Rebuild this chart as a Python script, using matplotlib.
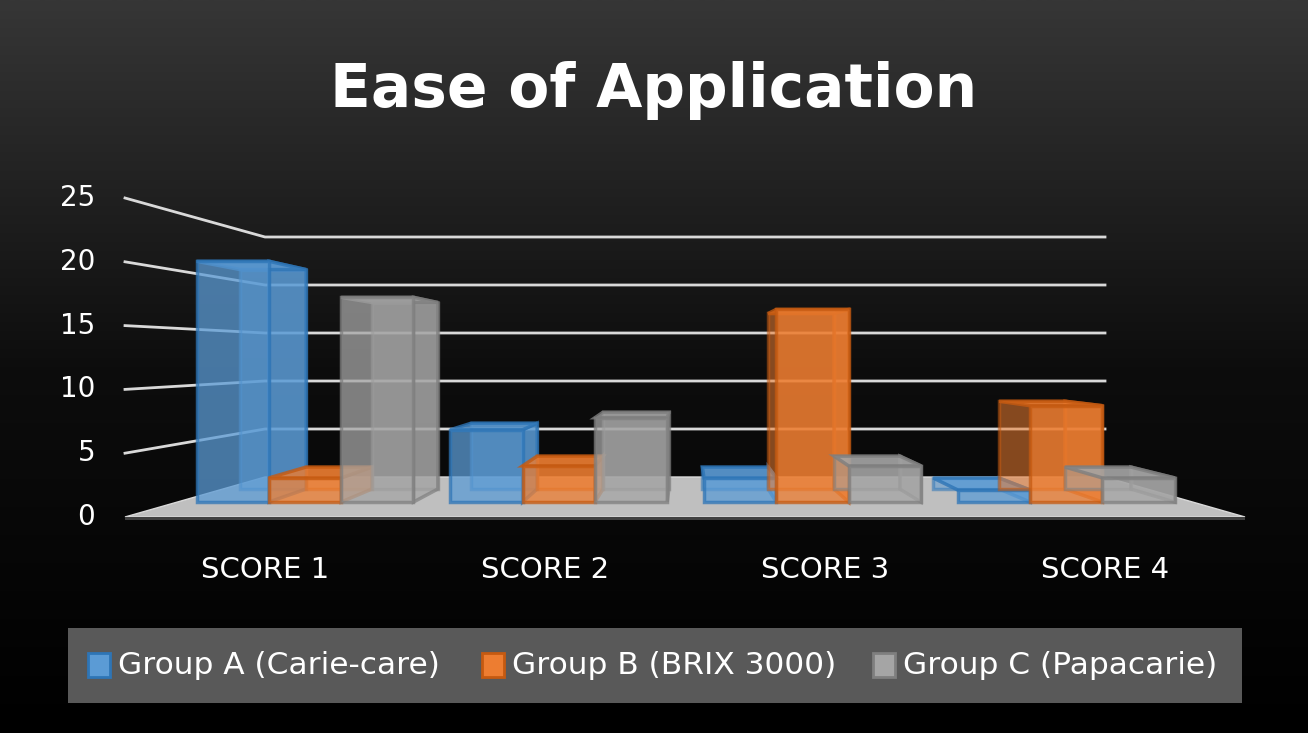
import matplotlib
matplotlib.use("Agg")
import matplotlib.pyplot as plt
import numpy as np
from matplotlib.patches import Polygon, Rectangle
from matplotlib.colors import LinearSegmentedColormap

categories = ["SCORE 1", "SCORE 2", "SCORE 3", "SCORE 4"]
series_names = ["Group A (Carie-care)", "Group B (BRIX 3000)", "Group C (Papacarie)"]
group_a = [20, 6, 2, 1]
group_b = [2, 3, 16, 8]
group_c = [17, 7, 3, 2]
yticks = [0, 5, 10, 15, 20, 25]

fills = ["#5B9BD5", "#ED7D31", "#A5A5A5"]
edges = ["#2E75B6", "#C55A11", "#7F7F7F"]

W, H = 1308, 733
fig = plt.figure(figsize=(W / 100, H / 100), dpi=100)
ax = fig.add_axes([0, 0, 1, 1])
ax.set_xlim(0, W); ax.set_ylim(H, 0); ax.axis("off")
grad = np.linspace(0, 1, 256).reshape(-1, 1)
cm = LinearSegmentedColormap.from_list("bg", ["#363636", "#0d0d0d", "#000000"])
ax.imshow(grad, extent=[0, W, H, 0], cmap=cm, aspect="auto", zorder=0)

def P(x, v, f):
    X0 = 125 + x / 4 * 1120
    X = 685 + (X0 - 685) * (1 - 0.25 * f)
    Y = 517 - 40 * f - (12.76 - 3.16 * f) * v
    return (X, Y)

def PB(x, v, f):
    # bars: slightly taller projection to match the reference perspective
    X, Y = P(x, 0, f)
    return (X, Y - (12.76 - 3.16 * f) * v * 1.04)

ax.add_patch(Polygon([P(0, 0, 0), P(4, 0, 0), P(4, 0, 1), P(0, 0, 1)],
                     closed=True, fc="#BFBFBF", ec="#D9D9D9", zorder=1))
ax.add_patch(Polygon([P(0, 0, 0), P(4, 0, 0), P(4, -0.25, 0), P(0, -0.25, 0)],
                     closed=True, fc="#404040", ec="none", zorder=1))
for t in yticks[1:]:
    xs = [P(0, t, 0)[0], P(0, t, 1)[0], P(4, t, 1)[0]]
    ys = [P(0, t, 0)[1], P(0, t, 1)[1], P(4, t, 1)[1]]
    ax.plot(xs, ys, color="#D9D9D9", lw=2, zorder=1)
for t in yticks:
    X, Y = P(0, t, 0)
    ax.text(95, Y, str(t), color="white", fontsize=20, ha="right", va="center")
for i, c in enumerate(categories):
    X, Y = P(i + 0.5, 0, 0)
    ax.text(X, 570, c, color="white", fontsize=21, ha="center", va="center")

f1, f2 = 0.375, 0.7
bw = 0.285
data = [group_a, group_b, group_c]
z = 2
for i in range(len(categories)):
    for s in range(3):
        v = data[s][i]
        x0 = i + 0.075 + s * bw
        x1 = x0 + bw
        kw = dict(closed=True, ec=edges[s], lw=2.5)
        faces = [
            ([PB(x0, 0, f2), PB(x1, 0, f2), PB(x1, v, f2), PB(x0, v, f2)], 0.55),
            ([PB(x1, 0, f1), PB(x1, 0, f2), PB(x1, v, f2), PB(x1, v, f1)], 0.7),
            ([PB(x0, v, f1), PB(x1, v, f1), PB(x1, v, f2), PB(x0, v, f2)], 0.8),
            ([PB(x0, 0, f1), PB(x1, 0, f1), PB(x1, v, f1), PB(x0, v, f1)], 0.75),
        ]
        for pts, a in faces:
            ax.add_patch(Polygon(pts, fc=fills[s], alpha=a, zorder=z, **kw))
            z += 1

ax.text(654, 90, "Ease of Application", color="white", fontsize=43,
        fontweight="bold", ha="center", va="center")

ax.add_patch(Rectangle((68, 628), 1174, 75, fc="#595959", ec="none", zorder=z))
lx = [88, 482, 873]
for s in range(3):
    ax.add_patch(Rectangle((lx[s], 653), 22, 24, fc=fills[s], ec=edges[s], lw=2, zorder=z + 1))
    ax.text(lx[s] + 30, 666, series_names[s], color="white", fontsize=22.5,
            ha="left", va="center", zorder=z + 1)

fig.savefig("out.png", dpi=100, facecolor="black")
